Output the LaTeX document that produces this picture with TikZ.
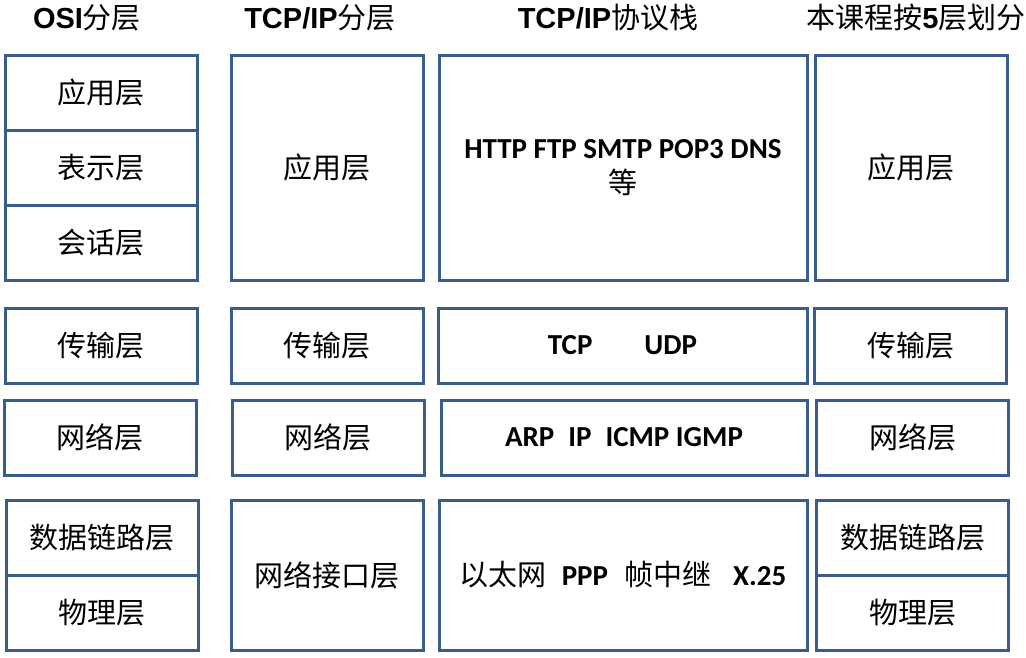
\documentclass[tikz,border=0pt]{standalone}
\usepackage{fontspec}
\setmainfont{Carlito}
\newfontfamily\cjk{Noto Sans CJK SC}
\newfontfamily\arialf{Liberation Sans}
\definecolor{boxblue}{RGB}{56,93,138}
\newcommand{\latb}{\normalfont\bfseries\fontsize{29}{34}\selectfont}
\begin{document}
\begin{tikzpicture}[x=1pt,y=-1pt,
  layerbox/.style={draw=boxblue,line width=3pt,inner sep=0pt,outer sep=0pt,
    minimum width=#1,font=\cjk\fontsize{29}{34}\selectfont,align=center},
  layerbox/.default=192pt,
  hdr/.style={inner sep=0pt,font=\fontsize{29}{34}\selectfont}]
\useasboundingbox (0,0) rectangle (1026,657);
% headers
\node[hdr] (h1) at (87,18) {{\arialf\bfseries OSI}{\cjk 分层}};
\node[hdr] (h2) at (320,18) {{\arialf\bfseries TCP/IP}{\cjk 分层}};
\node[hdr] (h3) at (608,18) {{\arialf\bfseries TCP/IP}{\cjk 协议栈}};
\node[hdr] (h4) at (916,18) {{\cjk 本课程按}{\arialf\bfseries 5}{\cjk 层划分}};
% column 1: OSI
\node[layerbox,minimum height=75pt] (o1) at (101,92.5) {应用层};
\node[layerbox,minimum height=75pt] (o2) at (101,167.5) {表示层};
\node[layerbox,minimum height=75pt] (o3) at (101,242.5) {会话层};
\node[layerbox,minimum height=75pt] (o4) at (101,345.5) {传输层};
\node[layerbox,minimum height=75pt] (o5) at (100,437.5) {网络层};
\node[layerbox,minimum height=75pt] (o6) at (102,537.5) {数据链路层};
\node[layerbox,minimum height=75pt] (o7) at (102,612.5) {物理层};
% column 2: TCP/IP layers
\node[layerbox,minimum height=225pt] (t1) at (327,167.5) {应用层};
\node[layerbox,minimum height=75pt] (t2) at (327,345.5) {传输层};
\node[layerbox,minimum height=75pt] (t3) at (328,437.5) {网络层};
\node[layerbox,minimum height=150pt] (t4) at (327,575) {网络接口层};
% column 3: protocol stack
\node[layerbox=368pt,minimum height=225pt] (p1) at (623,167.5)
  {{\latb HTTP FTP SMTP POP3 DNS}\\[1pt]等};
\node[layerbox=369pt,minimum height=75pt] (p2) at (622.5,345.5)
  {\raisebox{-2pt}{\latb TCP\hspace{52pt}UDP}};
\node[layerbox=366pt,minimum height=75pt] (p3) at (624,437.5)
  {\raisebox{-1pt}{\latb ARP\hspace{14pt}IP\hspace{14pt}ICMP IGMP}};
\node[layerbox=368pt,minimum height=150pt] (p4) at (623,575)
  {以太网\hspace{15pt}{\latb PPP}\hspace{16pt}帧中继\hspace{22pt}{\latb X.25}};
% column 4: five layers
\node[layerbox,minimum height=225pt] (f1) at (911,167.5) {应用层};
\node[layerbox,minimum height=75pt] (f2) at (910.5,345.5) {传输层};
\node[layerbox,minimum height=75pt] (f3) at (912.5,437.5) {网络层};
\node[layerbox,minimum height=75pt] (f4) at (912.5,537.5) {数据链路层};
\node[layerbox,minimum height=75pt] (f5) at (912.5,612.5) {物理层};
\end{tikzpicture}
\end{document}
